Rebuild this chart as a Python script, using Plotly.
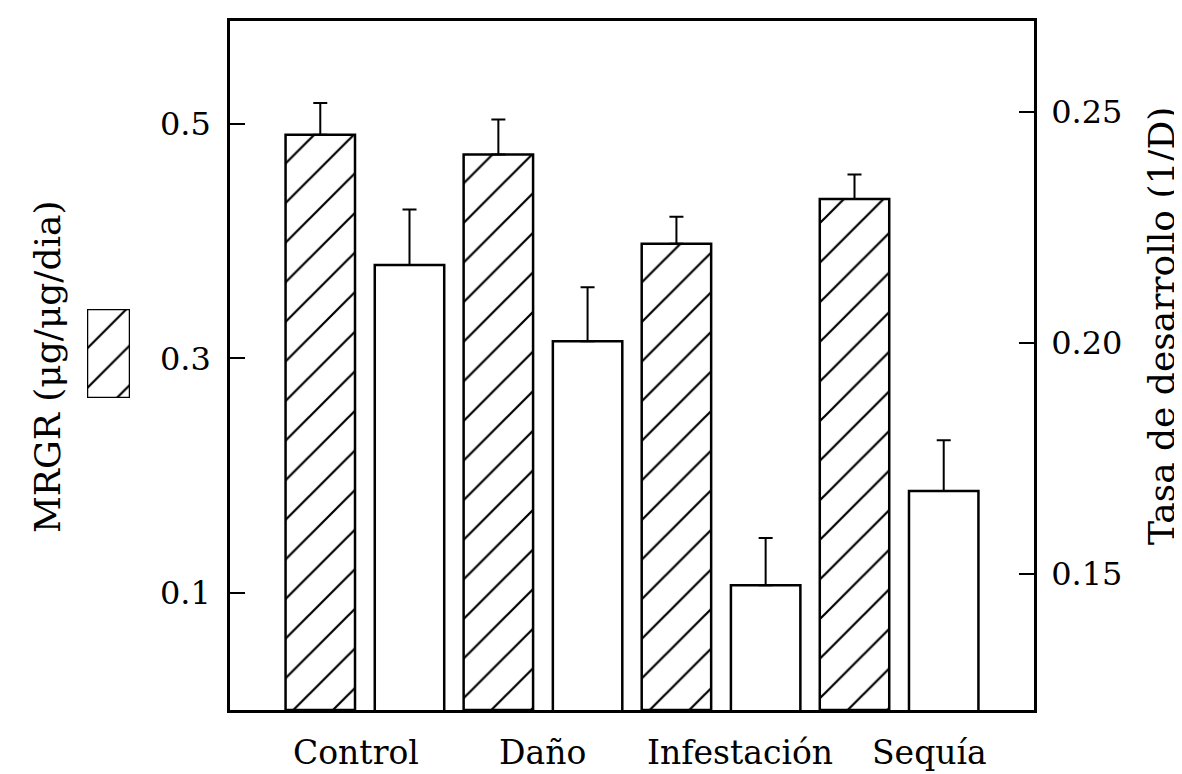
import plotly.graph_objects as go

# data
categories = ["Control", "Daño", "Infestación", "Sequía"]
mrgr = [0.491, 0.474, 0.398, 0.436]          # hatched bars, left axis
mrgr_err = [0.027, 0.030, 0.023, 0.021]
tasa = [0.2169, 0.2004, 0.1476, 0.168]       # open bars, right axis
tasa_err = [0.012, 0.0117, 0.0102, 0.011]

W, H = 1182, 774
FONT = "DejaVu Serif"


def px_x(p):
    return p / W


def px_y(p):
    return 1 - p / H


hatch = dict(shape="/", fgcolor="black", bgcolor="white", fgopacity=1,
             size=28, solidity=0.08)

fig = go.Figure()

fig.add_trace(go.Bar(
    x=categories, y=mrgr,
    width=0.39, offset=-0.443, offsetgroup="a",
    marker=dict(color="white", line=dict(color="black", width=2.5), pattern=hatch),
    error_y=dict(type="data", symmetric=False, array=mrgr_err, arrayminus=[0] * 4,
                 color="black", thickness=2, width=7),
    yaxis="y", showlegend=False,
))

fig.add_trace(go.Bar(
    x=categories, y=tasa,
    width=0.39, offset=0.058, offsetgroup="b",
    marker=dict(color="white", line=dict(color="black", width=2.5)),
    error_y=dict(type="data", symmetric=False, array=tasa_err, arrayminus=[0] * 4,
                 color="black", thickness=2, width=7),
    yaxis="y2", showlegend=False,
))

# little hatched key box next to the left title
fig.add_trace(go.Bar(
    x=[0], y=[1], width=1,
    marker=dict(color="white", line=dict(color="black", width=2.5), pattern=hatch),
    xaxis="x3", yaxis="y3", showlegend=False, hoverinfo="skip",
))

# category names sit slightly off the group centres in the original
label_shift = [-8, 0, 19, 31]
annotations = [
    dict(text=c, x=c, xref="x", y=px_y(744), yref="paper", xshift=s,
         xanchor="center", yanchor="middle", showarrow=False,
         font=dict(size=33, family=FONT))
    for c, s in zip(categories, label_shift)
]
annotations += [
    dict(text="MRGR (μg/μg/dia)", x=px_x(39), y=px_y(359), xref="paper", yref="paper",
         xanchor="center", yanchor="middle",
         textangle=-90, showarrow=False, font=dict(size=36, family=FONT)),
    dict(text="Tasa de desarrollo (1/D)", x=px_x(1153), y=px_y(318), xref="paper", yref="paper",
         xanchor="center", yanchor="middle",
         textangle=-90, showarrow=False, font=dict(size=36, family=FONT)),
]

fig.update_layout(
    width=W, height=H,
    margin=dict(l=0, r=0, t=0, b=0),
    paper_bgcolor="white", plot_bgcolor="white",
    font=dict(family=FONT, color="black"),
    barmode="group",
    xaxis=dict(
        domain=[px_x(222), px_x(1026)],
        range=[-0.755, 3.76],
        showline=True, linecolor="black", linewidth=2.5, mirror=True,
        showgrid=False, zeroline=False, ticks="", showticklabels=False,
    ),
    yaxis=dict(
        domain=[px_y(702), px_y(13)],
        range=[0, 0.588],
        tickvals=[0.1, 0.3, 0.5], tickformat=".1f",
        ticks="inside", ticklen=15, tickwidth=2, tickcolor="black",
        showline=True, linecolor="black", linewidth=2.5,
        showgrid=False, zeroline=False,
        tickfont=dict(size=32, family=FONT),
        ticklabelstandoff=10,
    ),
    yaxis2=dict(
        overlaying="y", side="right", anchor="x",
        range=[0.1206, 0.2697],
        tickvals=[0.15, 0.20, 0.25], tickformat=".2f",
        ticks="inside", ticklen=15, tickwidth=2, tickcolor="black",
        showline=True, linecolor="black", linewidth=2.5,
        showgrid=False, zeroline=False,
        tickfont=dict(size=32, family=FONT),
        ticklabelstandoff=8,
    ),
    xaxis3=dict(domain=[px_x(79), px_x(122)], range=[-0.5, 0.5], anchor="y3",
                visible=False, fixedrange=True),
    yaxis3=dict(domain=[px_y(390), px_y(301)], range=[0, 1], anchor="x3",
                visible=False, fixedrange=True),
    annotations=annotations,
)

fig.write_html("out.html")
